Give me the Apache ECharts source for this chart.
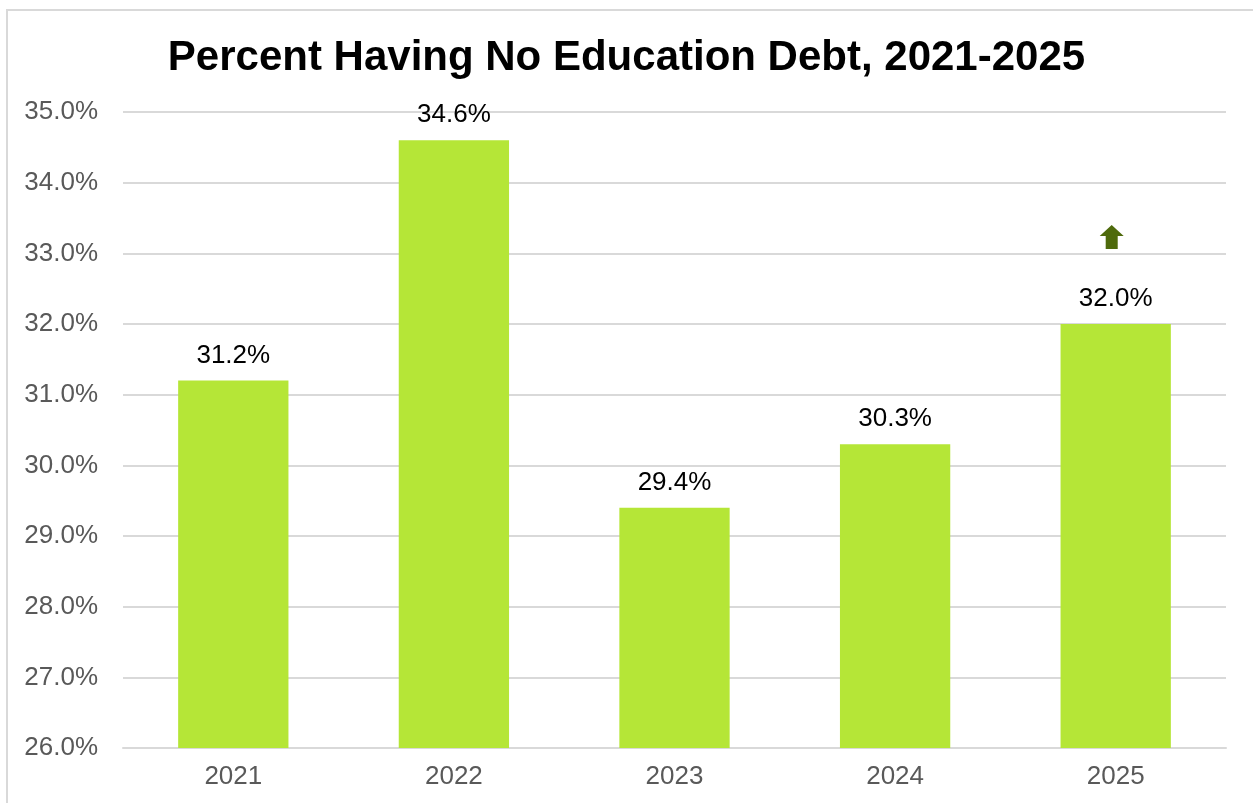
<!DOCTYPE html>
<html>
<head>
<meta charset="utf-8">
<script src="https://cdn.jsdelivr.net/npm/echarts@6/dist/echarts.min.js"></script>
<style>
  html, body { margin: 0; padding: 0; background: #fff; }
  #frame { position: absolute; left: 6px; top: 9px; width: 1260px; height: 810px; border: 2px solid #d9d9d9; box-sizing: border-box; }
  #main { position: absolute; left: 0; top: 0; width: 1253px; height: 803px; }
</style>
</head>
<body>
<div id="frame"></div>
<div id="main"></div>
<script>
// data
const years = ['2021', '2022', '2023', '2024', '2025'];
const noDebtPct = [31.2, 34.6, 29.4, 30.3, 32.0];
const arrowAt = ['2025', 33.23];

const chart = echarts.init(document.getElementById('main'));
const font = 'Liberation Sans, Arial, sans-serif';

const option = {
  animation: false,
  title: {
    text: 'Percent Having No Education Debt, 2021-2025',
    left: 'center',
    top: 32,
    textStyle: {
      fontFamily: font,
      fontWeight: 'bold',
      fontSize: 42,
      color: '#000'
    }
  },
  grid: { left: 123, right: 27, top: 112, bottom: 55 },
  xAxis: {
    type: 'category',
    data: years,
    axisTick: { show: false },
    axisLine: { lineStyle: { color: '#d9d9d9', width: 2 } },
    axisLabel: {
      color: '#595959',
      fontSize: 26,
      fontFamily: font,
      margin: 16
    }
  },
  yAxis: {
    type: 'value',
    min: 26,
    max: 35,
    interval: 1,
    axisLine: { show: false },
    axisTick: { show: false },
    splitLine: { lineStyle: { color: '#d9d9d9', width: 2 } },
    axisLabel: {
      color: '#595959',
      fontSize: 26,
      fontFamily: font,
      margin: 25,
      formatter: v => v.toFixed(1) + '%'
    }
  },
  series: [{
    type: 'bar',
    data: noDebtPct,
    barWidth: '50%',
    itemStyle: { color: '#b5e637' },
    label: {
      show: true,
      position: 'top',
      distance: 12,
      color: '#000',
      fontSize: 26,
      fontFamily: font,
      formatter: p => p.value.toFixed(1) + '%'
    },
    markPoint: {
      symbol: 'path://M12,0 L24,11 L18,11 L18,24 L6,24 L6,11 L0,11 Z',
      symbolSize: [24, 24],
      symbolOffset: [-4, 0],
      itemStyle: { color: '#4e6a0c' },
      label: { show: false },
      data: [{ coord: arrowAt }]
    }
  }]
};

chart.setOption(option);
</script>
</body>
</html>
